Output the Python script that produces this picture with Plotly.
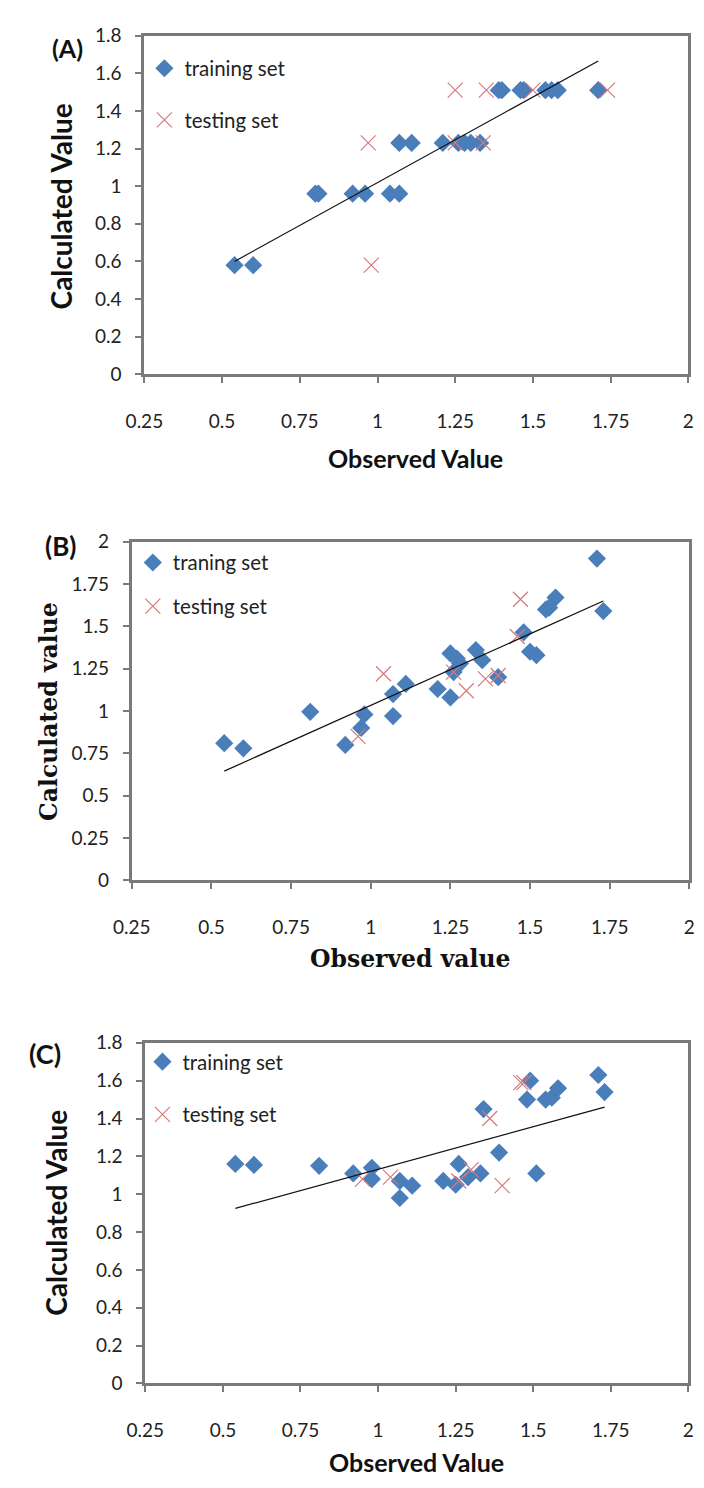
import plotly.graph_objects as go

W, H = 704, 1488

# ---------------- data ----------------
# (A)
a_train_obs = [0.54, 0.60, 0.80, 0.81, 0.92, 0.96, 1.04, 1.07, 1.07, 1.11, 1.21, 1.26,
               1.28, 1.30, 1.33, 1.39, 1.40, 1.46, 1.47, 1.54, 1.56, 1.58, 1.71]
a_train_calc = [0.58, 0.58, 0.96, 0.96, 0.96, 0.96, 0.96, 0.96, 1.23, 1.23, 1.23, 1.23,
                1.23, 1.23, 1.23, 1.51, 1.51, 1.51, 1.51, 1.51, 1.51, 1.51, 1.51]
a_test_obs = [0.98, 0.97, 1.25, 1.34, 1.25, 1.35, 1.50, 1.74]
a_test_calc = [0.58, 1.23, 1.23, 1.23, 1.51, 1.51, 1.51, 1.51]
a_trend_obs = [0.54, 1.71]
a_trend_calc = [0.60, 1.665]

# (B)
b_train_obs = [0.54, 0.60, 0.81, 0.92, 0.97, 0.98, 1.07, 1.07, 1.11, 1.21, 1.25, 1.25, 1.26,
               1.27, 1.28, 1.33, 1.35, 1.40, 1.48, 1.50, 1.52, 1.55, 1.56, 1.58, 1.71, 1.73]
b_train_calc = [0.81, 0.78, 0.995, 0.80, 0.90, 0.98, 0.97, 1.10, 1.16, 1.13, 1.08, 1.34, 1.23,
                1.31, 1.28, 1.36, 1.30, 1.20, 1.465, 1.35, 1.33, 1.60, 1.61, 1.67, 1.90, 1.59]
b_test_obs = [0.96, 1.04, 1.26, 1.30, 1.36, 1.40, 1.46, 1.47]
b_test_calc = [0.85, 1.22, 1.23, 1.12, 1.19, 1.21, 1.44, 1.66]
b_trend_obs = [0.54, 1.73]
b_trend_calc = [0.645, 1.65]

# (C)
c_train_obs = [0.54, 0.60, 0.81, 0.92, 0.98, 0.98, 1.07, 1.07, 1.11, 1.21, 1.25, 1.26,
               1.29, 1.33, 1.34, 1.39, 1.48, 1.49, 1.51, 1.54, 1.56, 1.58, 1.71, 1.73]
c_train_calc = [1.16, 1.155, 1.15, 1.11, 1.14, 1.08, 1.07, 0.98, 1.045, 1.07, 1.05, 1.16,
                1.09, 1.11, 1.45, 1.22, 1.50, 1.60, 1.11, 1.50, 1.51, 1.56, 1.63, 1.54]
c_test_obs = [0.95, 1.04, 1.26, 1.30, 1.36, 1.40, 1.46, 1.47]
c_test_calc = [1.08, 1.09, 1.07, 1.13, 1.40, 1.045, 1.59, 1.59]
c_trend_obs = [0.54, 1.73]
c_trend_calc = [0.925, 1.46]

x_ticks = [0.25, 0.5, 0.75, 1, 1.25, 1.5, 1.75, 2]
x_tick_labels = ["0.25", "0.5", "0.75", "1", "1.25", "1.5", "1.75", "2"]
y_ticks_ac = [0, 0.2, 0.4, 0.6, 0.8, 1, 1.2, 1.4, 1.6, 1.8]
y_tick_labels_ac = ["0", "0.2", "0.4", "0.6", "0.8", "1", "1.2", "1.4", "1.6", "1.8"]
y_ticks_b = [0, 0.25, 0.5, 0.75, 1, 1.25, 1.5, 1.75, 2]
y_tick_labels_b = ["0", "0.25", "0.5", "0.75", "1", "1.25", "1.5", "1.75", "2"]

# ---------------- styling ----------------
BLUE = "#4a7ebb"
RED = "#d9787a"
FRAME = "#7a7a7a"
SANS = "Lato"
SERIF = "DejaVu Serif"


def px_x(p):
    return p / W


def px_y(p):
    return 1 - p / H


fig = go.Figure()

panels = [
    dict(name="", train=(a_train_obs, a_train_calc), test=(a_test_obs, a_test_calc),
         trend=(a_trend_obs, a_trend_calc), legend="legend", train_label="training set"),
    dict(name="2", train=(b_train_obs, b_train_calc), test=(b_test_obs, b_test_calc),
         trend=(b_trend_obs, b_trend_calc), legend="legend2", train_label="traning set"),
    dict(name="3", train=(c_train_obs, c_train_calc), test=(c_test_obs, c_test_calc),
         trend=(c_trend_obs, c_trend_calc), legend="legend3", train_label="training set"),
]

for p in panels:
    xa, ya = "x" + p["name"], "y" + p["name"]
    fig.add_trace(go.Scatter(
        x=p["train"][0], y=p["train"][1], mode="markers", name=p["train_label"],
        xaxis=xa, yaxis=ya, legend=p["legend"], legendgroup="train" + p["name"],
        marker=dict(symbol="diamond", size=14, color=BLUE, line=dict(width=0)),
    ))
    fig.add_trace(go.Scatter(
        x=p["test"][0], y=p["test"][1], mode="markers", name="testing set",
        xaxis=xa, yaxis=ya, legend=p["legend"], legendgroup="test" + p["name"],
        marker=dict(symbol="x-thin", size=15, color=RED, line=dict(width=1.2, color=RED)),
    ))
    fig.add_trace(go.Scatter(
        x=p["trend"][0], y=p["trend"][1], mode="lines", showlegend=False,
        xaxis=xa, yaxis=ya, line=dict(color="#111111", width=1.2),
    ))

# plot-area boxes in pixels: (left, right, top, bottom)
boxes = [(130, 694, 24, 368), (117, 695, 538, 882), (131, 694, 1047, 1393)]
y_setups = [(y_ticks_ac, y_tick_labels_ac, 1.8), (y_ticks_b, y_tick_labels_b, 2.0),
            (y_ticks_ac, y_tick_labels_ac, 1.8)]

axis_common = dict(showline=True, linecolor=FRAME, linewidth=3, mirror=True,
                   showgrid=False, zeroline=False, ticks="outside", ticklen=6,
                   tickwidth=2, tickcolor=FRAME,
                   tickfont=dict(family=SANS, size=19, color="#222222"))

for i, (box, ys) in enumerate(zip(boxes, y_setups)):
    suffix = "" if i == 0 else str(i + 1)
    l, r, t, b = box
    fig.update_layout(**{
        "xaxis" + suffix: dict(domain=[px_x(l), px_x(r)], range=[0.25, 2],
                               anchor="y" + suffix, tickvals=x_ticks,
                               ticktext=x_tick_labels, ticklabelstandoff=22,
                               **axis_common),
        "yaxis" + suffix: dict(domain=[px_y(b), px_y(t)], range=[0, ys[2]],
                               anchor="x" + suffix, tickvals=ys[0], ticktext=ys[1],
                               ticklabelstandoff=10, **axis_common),
    })

legend_common = dict(xanchor="left", yanchor="top", bgcolor="rgba(0,0,0,0)",
                     font=dict(family=SANS, size=20.5, color="#222222"), itemwidth=30)
fig.update_layout(
    legend=dict(x=px_x(130), y=px_y(37), tracegroupgap=22, **legend_common),
    legend2=dict(x=px_x(118), y=px_y(539), tracegroupgap=14, **legend_common),
    legend3=dict(x=px_x(128), y=px_y(1046), tracegroupgap=23, **legend_common),
)

ann = []


def add_text(text, x, y, family, size, angle=0, bold=True):
    ann.append(dict(text=("<b>%s</b>" % text) if bold else text, x=px_x(x), y=px_y(y),
                    xref="paper", yref="paper", showarrow=False, textangle=angle,
                    xanchor="center", yanchor="middle",
                    font=dict(family=family, size=size, color="#111111")))


add_text("(A)", 50, 37, SANS, 25)
add_text("Calculated Value", 44, 197, SANS, 28, angle=-90)
add_text("Observed Value", 411, 453, SANS, 25)

add_text("(B)", 43, 542, SANS, 26)
add_text("Calculated value", 31, 710, SERIF, 23.5, angle=-90)
add_text("Observed value", 406, 962, SERIF, 23.5)

add_text("(C)", 27, 1058, SANS, 27)
add_text("Calculated Value", 38, 1220, SANS, 28, angle=-90)
add_text("Observed Value", 412, 1473, SANS, 25)

fig.update_layout(
    width=W, height=H, margin=dict(l=0, r=0, t=0, b=0),
    paper_bgcolor="white", plot_bgcolor="white", annotations=ann,
)

fig.write_html("out.html")
